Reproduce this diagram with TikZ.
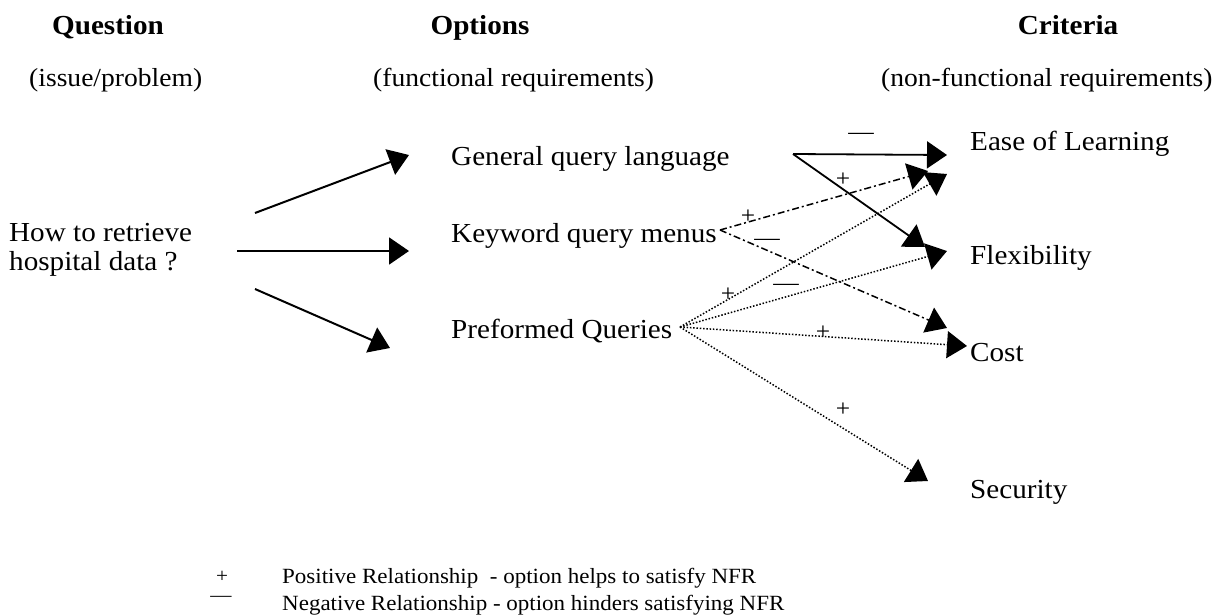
\documentclass[tikz,border=0pt]{standalone}
\usepackage{fontspec}
\setmainfont{Liberation Serif}[FakeStretch=1.06]
\usetikzlibrary{arrows.meta}

\tikzset{
  lbl/.style={anchor=base west, inner sep=0pt, font=\fontsize{27.5}{29}\selectfont},
  sub/.style={anchor=base west, inner sep=0pt, font=\fontsize{26}{29}\selectfont},
  hdr/.style={anchor=base, inner sep=0pt, font=\fontsize{27.5}{30}\selectfont\bfseries},
  legend/.style={anchor=base west, inner sep=0pt, font=\fontsize{21.7}{26}\selectfont},
  sgn/.style={inner sep=0pt, font=\fontsize{24}{26}\selectfont},
  lsgn/.style={inner sep=0pt, font=\fontsize{20}{22}\selectfont},
  tip/.style={-{Triangle[length=20pt,width=27pt]}},
  qarrow/.style={tip, line width=2pt},
  posarrow/.style={tip, line width=1.8pt},
  kwarrow/.style={tip, line width=1.5pt, dash pattern=on 7pt off 3pt on 2pt off 3pt},
  pfarrow/.style={tip, line width=1.5pt, dash pattern=on 1.5pt off 1.8pt}
}

\begin{document}
\begin{tikzpicture}[x=1pt, y=-1pt]
    \useasboundingbox (0,0) rectangle (1216,616);

    % Column heads
    \node[hdr] (qhead) at (108,34) {Question};
    \node[hdr] (ohead) at (480,34) {Options};
    \node[hdr] (chead) at (1068,34) {Criteria};
    \node[sub] (qsub) at (29,86) {(issue/problem)};
    \node[sub] (osub) at (373,86) {(functional requirements)};
    \node[sub] (csub) at (881,86) {(non-functional requirements)};

    % Question
    \node[lbl, align=left] (quest) at (9,270) {How to retrieve\\hospital data ?};

    % Options
    \node[lbl] (gql) at (451,165) {General query language};
    \node[lbl] (kqm) at (451,242) {Keyword query menus};
    \node[lbl] (pfq) at (451,338) {Preformed Queries};

    % Criteria
    \node[lbl] (ease) at (970,150) {Ease of Learning};
    \node[lbl] (flex) at (970,264) {Flexibility};
    \node[lbl] (cost) at (970,361) {Cost};
    \node[lbl] (secu) at (970,498) {Security};

    % Arrow ends
    \coordinate (qup) at (255,213);
    \coordinate (qmid) at (237,251);
    \coordinate (qdown) at (255,289);
    \coordinate (gqlin) at (409,155);
    \coordinate (kqmin) at (409,251);
    \coordinate (pfqin) at (390,348);
    \coordinate (gqlout) at (793,154);
    \coordinate (kqmout) at (720,230);
    \coordinate (pfqout) at (680,327);
    \coordinate (easeg) at (947,155);
    \coordinate (easek) at (928,171);
    \coordinate (easep) at (947,174);
    \coordinate (flexg) at (925,247);
    \coordinate (flexp) at (947,251);
    \coordinate (costk) at (947,328);
    \coordinate (costp) at (967,346);
    \coordinate (secup) at (928,481);

    % Question -> options
    \draw[qarrow] (qup) -- (gqlin);
    \draw[qarrow] (qmid) -- (kqmin);
    \draw[qarrow] (qdown) -- (pfqin);

    % Options -> criteria
    \draw[posarrow] (gqlout) -- (easeg);
    \draw[posarrow] (gqlout) -- (flexg);
    \draw[kwarrow] (kqmout) -- (easek);
    \draw[kwarrow] (kqmout) -- (costk);
    \draw[pfarrow] (pfqout) -- (easep);
    \draw[pfarrow] (pfqout) -- (flexp);
    \draw[pfarrow] (pfqout) -- (costp);
    \draw[pfarrow] (pfqout) -- (secup);

    % Signs
    \node[sgn] (s1) at (861,136) {—};
    \node[sgn] (s2) at (843,180) {+};
    \node[sgn] (s3) at (748,217) {+};
    \node[sgn] (s4) at (767,242) {—};
    \node[sgn] (s5) at (728,295) {+};
    \node[sgn] (s6) at (786,287) {—};
    \node[sgn] (s7) at (823,333) {+};
    \node[sgn] (s8) at (843,410) {+};

    % Legend
    \node[lsgn] (lplus) at (222,577) {+};
    \node[lsgn] (lminus) at (221,599) {—};
    \node[legend] (lpos) at (282,583) {Positive Relationship\ \ - option helps to satisfy NFR};
    \node[legend] (lneg) at (282,610) {Negative Relationship - option hinders satisfying NFR};
\end{tikzpicture}
\end{document}
